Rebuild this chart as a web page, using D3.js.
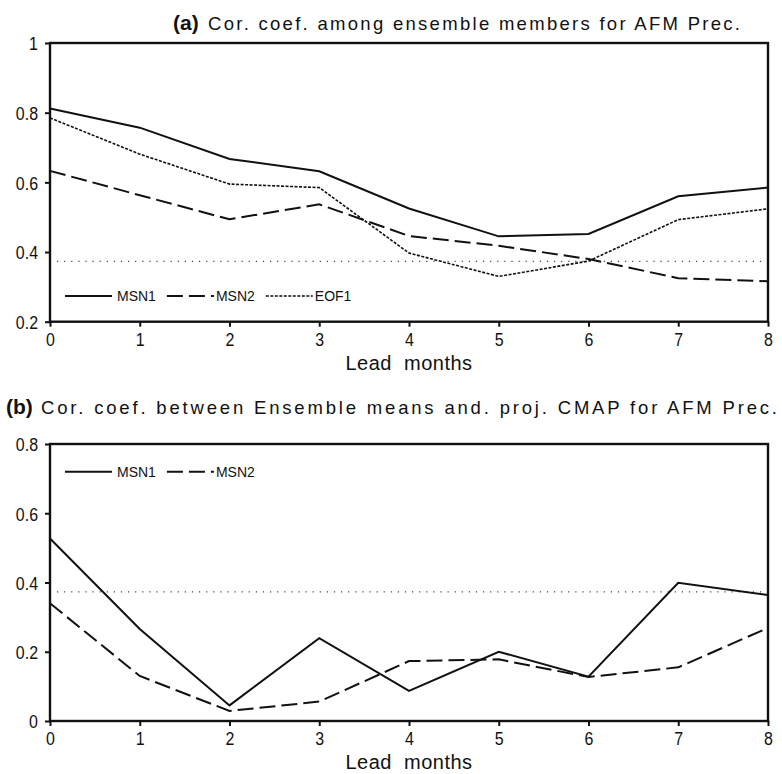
<!DOCTYPE html>
<html>
<head>
<meta charset="utf-8">
<script src="https://cdn.jsdelivr.net/npm/d3@7"></script>
<style>
  body { margin: 0; background: #fff; }
  svg { display: block; }
  text { font-family: "Liberation Sans", Arial, sans-serif; fill: #111; }
</style>
</head>
<body>
<svg id="chart" width="782" height="774"></svg>
<script>
// lead months on the x axis
var leads = [0, 1, 2, 3, 4, 5, 6, 7, 8];
var xTicks = ["0", "1", "2", "3", "4", "5", "6", "7", "8"];

// (a) correlation among ensemble members
var aMSN1 = [0.812, 0.757, 0.667, 0.632, 0.525, 0.445, 0.452, 0.560, 0.585];
var aMSN2 = [0.633, 0.563, 0.494, 0.537, 0.446, 0.418, 0.380, 0.325, 0.316];
var aEOF1 = [0.785, 0.681, 0.595, 0.585, 0.397, 0.330, 0.374, 0.493, 0.524];
var aYTicks = [0.2, 0.4, 0.6, 0.8, 1];

// (b) correlation between ensemble means and projected CMAP
var bMSN1 = [0.527, 0.266, 0.045, 0.239, 0.087, 0.200, 0.128, 0.399, 0.364];
var bMSN2 = [0.340, 0.130, 0.029, 0.056, 0.173, 0.178, 0.127, 0.155, 0.269];
var bYTicks = [0, 0.2, 0.4, 0.6, 0.8];

// significance level (dotted line)
var sigLevel = 0.373;

var svg = d3.select("#chart");

var x = d3.scaleLinear().domain([0, 8]).range([50, 768]);

var styles = {
    MSN1: {dash: null, width: 2},
    MSN2: {dash: "16,6", width: 2},
    EOF1: {dash: "3,1.5", width: 1.6}
};

function fmt(d){
    return d === 0 ? "0" : d === 1 ? "1" : d3.format(".1f")(d);
}

var squeeze = 0.84; // narrow plotting font

function panel(opts){
    var g = svg.append("g");
    var y = d3.scaleLinear().domain(opts.yDomain).range([opts.bottom, opts.top]);

    // significance line
    g.append("line")
        .attr("x1", 57).attr("x2", 764)
        .attr("y1", y(sigLevel)).attr("y2", y(sigLevel))
        .attr("stroke", "#444").attr("stroke-width", 1.2)
        .attr("stroke-dasharray", "1.2,5.9");

    var line = d3.line()
        .x(function(d, i){ return x(leads[i]); })
        .y(function(d){ return y(d); });

    opts.series.forEach(function(s){
        var st = styles[s.name];
        g.append("path")
            .datum(s.values)
            .attr("d", line)
            .attr("fill", "none")
            .attr("stroke", "#111")
            .attr("stroke-width", st.width)
            .attr("stroke-dasharray", st.dash);
    });

    // frame
    g.append("rect")
        .attr("x", x(0)).attr("y", opts.top)
        .attr("width", x(8) - x(0)).attr("height", opts.bottom - opts.top)
        .attr("fill", "none").attr("stroke", "#111").attr("stroke-width", 2.4);

    // axes
    var xAxis = d3.axisBottom(x).tickValues(leads)
        .tickFormat(function(d, i){ return xTicks[i]; })
        .tickSize(5);
    var xg = g.append("g").attr("transform", "translate(0," + opts.bottom + ")").call(xAxis);

    var yAxis = d3.axisLeft(y).tickValues(opts.yTicks).tickFormat(fmt)
        .tickSize(5);
    var yg = g.append("g").attr("transform", "translate(" + x(0) + ",0)").call(yAxis);

    [xg, yg].forEach(function(ax){
        ax.select(".domain").remove();
        ax.selectAll(".tick line").attr("stroke", "#111").attr("stroke-width", 2);
        ax.selectAll(".tick text").style("font-size", "19px").attr("fill", "#111")
            .attr("transform", "scale(" + squeeze + ",1)");
    });
    xg.selectAll(".tick text").attr("y", 24).attr("dy", 0);
    yg.selectAll(".tick text").attr("x", -12 / squeeze).attr("dy", "0.36em");

    g.append("text")
        .attr("x", 409).attr("y", opts.bottom + 48)
        .attr("text-anchor", "middle")
        .style("font-size", "20px")
        .style("word-spacing", "6px")
        .style("letter-spacing", "0.5px")
        .text("Lead months");

    // title: bold tag then stretched text
    g.append("text")
        .attr("x", opts.tagX).attr("y", opts.titleY)
        .style("font-weight", "bold").style("font-size", "21px")
        .text(opts.tag);
    g.append("text")
        .attr("x", opts.tagX + 35).attr("y", opts.titleY)
        .attr("textLength", opts.titleEnd - opts.tagX - 35)
        .attr("lengthAdjust", "spacing")
        .style("font-size", "18.5px")
        .text(opts.title);

    // legend
    var lx = 65;
    opts.series.forEach(function(s, i){
        var st = styles[s.name];
        g.append("line")
            .attr("x1", lx).attr("x2", lx + 47)
            .attr("y1", opts.legendY).attr("y2", opts.legendY)
            .attr("stroke", "#111").attr("stroke-width", st.width)
            .attr("stroke-dasharray", st.dash);
        var tx = g.append("text")
            .attr("x", lx + (i === 0 ? 52 : 49)).attr("y", opts.legendY + 5)
            .style("font-size", "14px")
            .text(s.name);
        lx = +tx.attr("x") + tx.node().getComputedTextLength() + 11;
    });
}

panel({
    top: 43, bottom: 321.7, yDomain: [0.2, 1], yTicks: aYTicks,
    series: [{name: "MSN1", values: aMSN1}, {name: "MSN2", values: aMSN2}, {name: "EOF1", values: aEOF1}],
    legendY: 296,
    tag: "(a)", title: "Cor. coef. among ensemble members for AFM Prec.",
    tagX: 173, titleEnd: 740, titleY: 30
});

panel({
    top: 444, bottom: 721, yDomain: [0, 0.8], yTicks: bYTicks,
    series: [{name: "MSN1", values: bMSN1}, {name: "MSN2", values: bMSN2}],
    legendY: 471.7,
    tag: "(b)", title: "Cor. coef. between Ensemble means and. proj. CMAP for AFM Prec.",
    tagX: 6, titleEnd: 777, titleY: 414
});
</script>
</body>
</html>
